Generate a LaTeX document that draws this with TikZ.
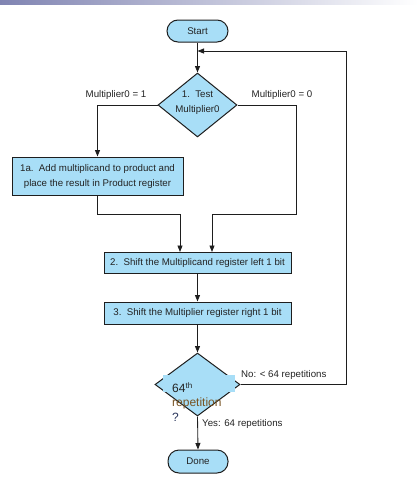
\documentclass[tikz,border=0pt]{standalone}
\usepackage{fontspec}
\setmainfont{Liberation Sans}
\usetikzlibrary{shapes.geometric,arrows.meta}
\definecolor{boxfill}{RGB}{168,222,247}
\definecolor{edge}{RGB}{30,30,30}
\definecolor{txt}{RGB}{35,35,35}
\definecolor{bandl}{RGB}{128,132,178}
\definecolor{orangetxt}{RGB}{120,84,36}
\definecolor{qtxt}{RGB}{40,52,90}
\begin{document}
\begin{tikzpicture}[x=1pt,y=-1pt,
  every node/.style={font=\fontsize{9.7}{15}\selectfont, text=txt},
  boxnode/.style={draw=edge, line width=1pt, fill=boxfill, inner sep=0pt},
  term/.style={boxnode, rounded corners=11pt},
  dia/.style={boxnode, diamond, inner sep=0pt},
  flow/.style={draw=edge, line width=0.85pt},
  arr/.style={flow, -{Triangle[length=6.5pt,width=5pt]}},
  lbl/.style={inner sep=0pt}
]
\useasboundingbox (0,0) rectangle (418,493);
\shade[left color=bandl, right color=white] (0,0) rectangle (418,4.5);

\node[term, minimum width=61pt, minimum height=22pt] (start) at (197.5,31) {Start};
\node[dia, minimum width=79pt, minimum height=64pt] (d1) at (197.5,105) {};
\node[lbl, align=center] (d1t) at (197.5,102.5) {1.\ \ Test\\Multiplier0};
\node[lbl] (l1) at (116,95) {Multiplier0 = 1};
\node[lbl] (l0) at (282,95) {Multiplier0 = 0};

\node[boxnode, minimum width=171pt, minimum height=38pt, align=center] (b1a) at (97.5,176)
  {1a.\ \ Add multiplicand to product and\\place the result in Product register};
\node[boxnode, minimum width=187pt, minimum height=21pt] (b2) at (197.5,262.5)
  {2.\ \ Shift the Multiplicand register left 1 bit};
\node[boxnode, minimum width=187pt, minimum height=22pt] (b3) at (197.5,313)
  {3.\ \ Shift the Multiplier register right 1 bit};

\node[dia, minimum width=85pt, minimum height=63pt] (d2) at (197.5,384.5) {};
\fill[boxfill] (163,375) rectangle (235,392);
\node[lbl, anchor=north west, align=left, font=\fontsize{12}{14.5}\selectfont] (d2t) at (172,382)
  {64\textsuperscript{th}\\\textcolor{orangetxt}{repetition}\\\textcolor{qtxt}{?}};
\node[lbl, anchor=west] (lno) at (241,375) {No: < 64 repetitions};
\node[lbl, anchor=west] (lyes) at (202,424) {Yes: 64 repetitions};

\node[term, minimum width=60pt, minimum height=23pt] (done) at (198,461.5) {Done};

\coordinate (loopin) at (197.5,51);
\coordinate (lpA) at (346,384.5);
\coordinate (lpB) at (346,51);

\draw[arr] (start.south) -- (d1.north);
\draw[arr] (d2.east) -- (lpA) -- (lpB) -- (loopin);
\draw[arr] (d1.west) -| (b1a.north);
\draw[arr] (d1.east) -- (296,105) -- (296,214) -- (212,214) -- (212,252);
\draw[arr] (b1a.south) -- (97.5,214) -- (180,214) -- (180,252);
\draw[arr] (b2.south) -- (b3.north);
\draw[arr] (b3.south) -- (d2.north);
\draw[arr] (d2.south) -- (done.north);
\end{tikzpicture}
\end{document}
